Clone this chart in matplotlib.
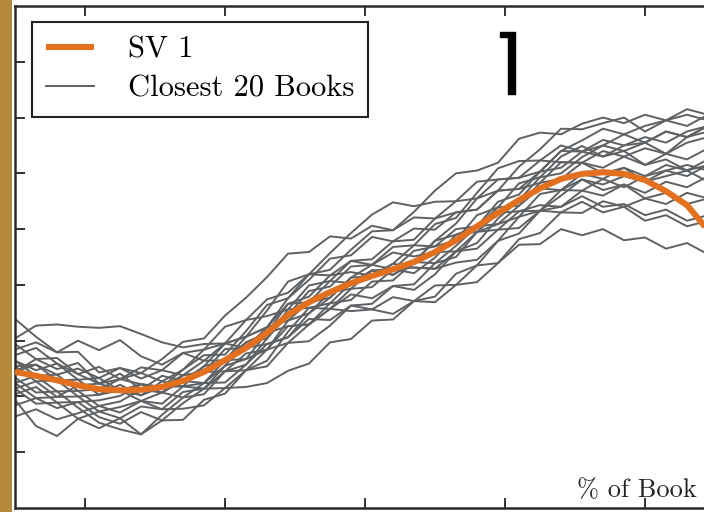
import matplotlib
matplotlib.use('Agg')
import matplotlib.pyplot as plt
import matplotlib.patheffects as pe
from matplotlib.patches import Rectangle

plt.rcParams['font.family'] = ['cmr10', 'DejaVu Serif']
plt.rcParams['axes.formatter.use_mathtext'] = True

# % of book (sample positions)
pct = [0, 1.5, 3, 4.5, 6, 7.5, 9, 10.5, 12, 13.5, 15, 16.5, 18, 19.5, 21, 22.5, 24,
       25.5, 27, 28.5, 30, 31.5, 33, 34.5, 36, 37.5, 39, 40.5, 42, 43.5, 45, 46.5, 48, 49.5]

# first singular vector
sv1 = [2.44, 2.37, 2.29, 2.20, 2.13, 2.11, 2.12, 2.17, 2.28, 2.44, 2.65, 2.87, 3.14, 3.46,
       3.69, 3.87, 4.03, 4.16, 4.28, 4.41, 4.59, 4.80, 5.05, 5.29, 5.52, 5.73, 5.90, 5.99,
       6.02, 5.99, 5.88, 5.68, 5.43, 4.98]

# closest 20 books
book01 = [3.04, 3.27, 3.29, 3.25, 3.23, 3.26, 3.12, 2.97, 2.88, 2.94, 2.95, 3.07, 3.24, 3.66, 3.69, 3.77, 4.13, 4.36, 4.28, 4.21, 4.49, 4.90, 5.05, 5.49, 5.62, 6.03, 6.10, 6.39, 6.30, 6.50, 6.55, 6.35, 6.65, 6.75]
book02 = [1.94, 1.47, 1.29, 1.60, 1.43, 1.61, 1.32, 1.57, 1.88, 2.14, 2.15, 2.47, 2.54, 2.96, 2.99, 3.27, 3.63, 3.66, 3.98, 4.01, 4.39, 4.50, 4.95, 5.09, 5.22, 5.63, 5.70, 5.99, 5.90, 6.10, 5.95, 6.15, 6.05, 6.25]
book03 = [2.64, 2.47, 2.59, 2.40, 2.53, 2.31, 2.42, 2.27, 2.48, 2.74, 2.75, 3.17, 3.64, 3.76, 4.09, 4.47, 4.53, 4.86, 4.78, 5.01, 4.99, 5.30, 5.35, 5.69, 5.72, 6.03, 6.40, 6.59, 6.80, 6.70, 6.85, 6.95, 6.85, 7.05]
book04 = [2.14, 2.27, 1.99, 2.00, 1.73, 1.81, 1.92, 1.77, 1.78, 1.84, 2.15, 2.17, 2.24, 2.46, 2.59, 2.97, 3.03, 3.36, 3.38, 3.71, 3.79, 4.20, 4.35, 4.79, 4.92, 5.33, 5.40, 5.69, 5.60, 5.80, 5.65, 5.85, 5.75, 5.95]
book05 = [2.44, 2.57, 2.39, 2.50, 2.33, 2.51, 2.42, 2.67, 2.98, 3.04, 3.45, 3.77, 4.14, 4.56, 4.59, 4.87, 4.83, 5.06, 4.98, 5.21, 5.19, 5.50, 5.55, 5.89, 5.92, 6.03, 6.40, 6.39, 6.60, 6.50, 6.65, 6.55, 6.75, 6.85]
book06 = [2.54, 2.27, 2.29, 2.00, 2.03, 2.11, 1.92, 2.07, 1.98, 2.24, 2.25, 2.57, 2.94, 3.06, 3.39, 3.37, 3.63, 3.56, 3.78, 3.71, 3.99, 4.00, 4.35, 4.39, 4.72, 4.73, 5.00, 4.89, 5.00, 4.80, 4.85, 4.65, 4.75, 4.55]
book07 = [2.24, 2.37, 2.39, 2.10, 2.13, 2.31, 2.22, 2.17, 2.18, 2.54, 2.65, 3.07, 3.24, 3.76, 4.19, 4.27, 4.63, 4.96, 4.98, 5.31, 5.69, 6.00, 6.05, 6.19, 6.62, 6.73, 6.70, 6.89, 7.00, 6.90, 7.05, 6.95, 7.15, 7.05]
book08 = [2.84, 2.97, 2.79, 3.00, 2.83, 3.01, 2.72, 2.57, 2.78, 2.64, 2.95, 2.87, 3.24, 3.36, 3.69, 4.07, 4.03, 4.26, 4.18, 4.41, 4.39, 4.70, 5.05, 5.09, 5.42, 5.83, 5.90, 6.19, 6.10, 6.30, 6.15, 6.35, 6.25, 6.45]
book09 = [1.64, 1.77, 1.59, 1.70, 1.83, 1.71, 1.92, 1.87, 2.18, 2.24, 2.65, 2.67, 2.84, 3.36, 3.49, 3.87, 3.93, 4.26, 4.28, 4.61, 4.69, 4.80, 5.25, 5.39, 5.42, 5.73, 5.70, 5.89, 5.70, 5.80, 5.55, 5.65, 5.45, 5.55]
book10 = [3.39, 3.07, 2.79, 2.80, 2.43, 2.51, 2.32, 2.47, 2.38, 2.64, 2.65, 2.97, 3.04, 3.56, 3.99, 4.07, 4.43, 4.46, 4.78, 4.81, 5.19, 5.30, 5.35, 5.69, 5.72, 5.83, 6.20, 6.19, 6.40, 6.30, 6.45, 6.35, 6.55, 6.65]
book11 = [2.34, 2.07, 2.09, 2.10, 1.83, 1.91, 2.12, 2.07, 2.38, 2.44, 2.45, 2.77, 2.84, 3.26, 3.29, 3.57, 3.93, 3.96, 4.28, 4.31, 4.29, 4.60, 4.65, 4.99, 5.02, 5.33, 5.30, 5.49, 5.30, 5.40, 5.15, 5.25, 5.05, 5.15]
book12 = [2.64, 2.37, 2.09, 1.80, 1.53, 1.41, 1.32, 1.67, 1.98, 2.04, 2.45, 2.57, 3.04, 3.46, 3.89, 3.97, 4.33, 4.36, 4.68, 4.71, 4.69, 5.00, 5.05, 5.39, 5.82, 5.93, 6.30, 6.49, 6.30, 6.40, 6.15, 6.25, 6.05, 6.15]
book13 = [2.44, 2.67, 2.49, 2.60, 2.23, 2.41, 2.12, 2.37, 2.28, 2.54, 2.95, 3.07, 3.54, 4.06, 4.19, 4.57, 4.93, 5.26, 5.48, 5.41, 5.49, 5.50, 5.85, 5.89, 5.92, 6.23, 6.20, 6.19, 6.00, 6.10, 5.85, 5.95, 6.05, 5.85]
book14 = [2.14, 1.87, 1.89, 1.60, 1.73, 1.61, 1.82, 1.77, 2.08, 2.14, 2.55, 2.67, 3.14, 3.26, 3.29, 3.57, 3.53, 3.56, 3.48, 3.71, 3.69, 4.00, 4.05, 4.39, 4.82, 4.93, 5.30, 5.29, 5.50, 5.40, 5.55, 5.45, 5.65, 5.55]
book15 = [2.74, 2.87, 2.59, 2.30, 2.33, 2.11, 2.22, 2.07, 2.28, 2.24, 2.55, 2.97, 3.14, 3.66, 3.79, 4.17, 4.23, 4.16, 4.38, 4.71, 5.09, 5.20, 5.65, 6.09, 6.22, 6.23, 6.50, 6.39, 6.50, 6.70, 6.55, 6.75, 6.65, 6.85]
book16 = [2.04, 2.17, 1.89, 1.90, 1.63, 1.51, 1.72, 1.57, 1.58, 1.94, 2.05, 2.47, 2.64, 3.16, 3.59, 3.67, 4.03, 4.26, 4.18, 4.41, 4.79, 4.90, 4.95, 5.29, 5.32, 5.43, 5.40, 5.59, 5.40, 5.45, 5.25, 5.35, 5.15, 5.25]
book17 = [2.94, 2.67, 2.69, 2.40, 2.23, 2.31, 2.52, 2.47, 2.78, 2.84, 3.25, 3.37, 3.44, 3.56, 3.59, 3.57, 3.83, 3.76, 3.98, 3.91, 4.19, 4.60, 4.75, 5.19, 5.52, 5.93, 6.00, 6.29, 6.50, 6.40, 6.55, 6.75, 6.65, 6.85]
book18 = [2.24, 1.97, 1.79, 1.90, 1.93, 2.01, 2.22, 2.17, 2.48, 2.84, 2.95, 3.37, 3.74, 3.86, 4.19, 4.17, 4.43, 4.36, 4.58, 4.51, 4.59, 4.60, 4.95, 4.99, 5.32, 5.33, 5.60, 5.89, 5.80, 5.95, 5.85, 6.05, 5.95, 6.15]
book19 = [2.54, 2.57, 2.29, 2.30, 2.03, 2.21, 2.02, 2.27, 2.18, 2.14, 2.45, 2.47, 2.84, 2.96, 3.29, 3.67, 3.73, 4.06, 4.08, 4.41, 4.79, 5.10, 5.55, 5.69, 6.12, 6.43, 6.80, 6.79, 6.90, 7.00, 6.75, 6.95, 7.05, 6.95]
book20 = [1.84, 1.97, 1.99, 2.20, 2.23, 2.11, 2.02, 2.17, 2.38, 2.44, 2.85, 2.87, 2.94, 3.06, 3.49, 3.77, 4.13, 4.16, 4.38, 4.31, 4.29, 4.40, 4.45, 4.79, 5.22, 5.33, 5.70, 5.69, 5.90, 5.75, 5.95, 6.05, 6.15, 6.05]

books = [book01, book02, book03, book04, book05, book06, book07, book08, book09, book10,
         book11, book12, book13, book14, book15, book16, book17, book18, book19, book20]

fig = plt.figure(figsize=(7.04, 5.12), dpi=100)
fig.patch.set_facecolor('white')

# wooden frame strip on the left edge of the screenshot
fig.patches.append(Rectangle((0, 0), 12 / 704, 1, transform=fig.transFigure,
                             facecolor='#b5893a', edgecolor='none', zorder=0))

# axes runs past the right edge (picture is cropped)
ax = fig.add_axes([15 / 704, 4 / 512, 700 / 704, 502 / 512])

for i, b in enumerate(books):
    ax.plot(pct, b, color='#5e6164', lw=1.4,
            label='Closest 20 Books' if i == 0 else None, zorder=2)
ax.plot(pct, sv1, color='#e2701f', lw=4.4, label='SV 1', zorder=3,
        solid_capstyle='butt')

ax.set_xlim(0, 50)
ax.set_ylim(0, 9)
ax.set_xticks([5, 15, 25, 35, 45])
ax.set_yticks([1, 2, 3, 4, 5, 6, 7, 8])
ax.set_xticklabels([])
ax.set_yticklabels([])
ax.tick_params(direction='in', length=7, width=1.3, color='#222222',
               top=True, right=True)
for s in ax.spines.values():
    s.set_linewidth(1.8)
    s.set_color('#2a2a2a')

handles, labels = ax.get_legend_handles_labels()
leg = ax.legend(handles[::-1], labels[::-1], loc='upper left',
                bbox_to_anchor=(0.024, 0.968), borderaxespad=0,
                fontsize=22, handlelength=1.6, handletextpad=1.1,
                borderpad=0.45, labelspacing=0.4, fancybox=False,
                framealpha=1)
leg.get_frame().set_edgecolor('#222222')
leg.get_frame().set_linewidth(1.5)

# marker digit drawn on the screenshot
ax.text((507 - 15) / 700, (508 - 65) / 502, '\u2309',
        transform=ax.transAxes, fontsize=50, fontweight='normal',
        family='DejaVu Sans', ha='center', va='center', color='black',
        path_effects=[pe.withStroke(linewidth=1.0, foreground='black',
                                    capstyle='round', joinstyle='round')])

fig.text(697 / 704, 1 - 497 / 512, '% of Book', ha='right', va='baseline',
         fontsize=19, color='#222222')

fig.savefig('out.png', dpi=100)
